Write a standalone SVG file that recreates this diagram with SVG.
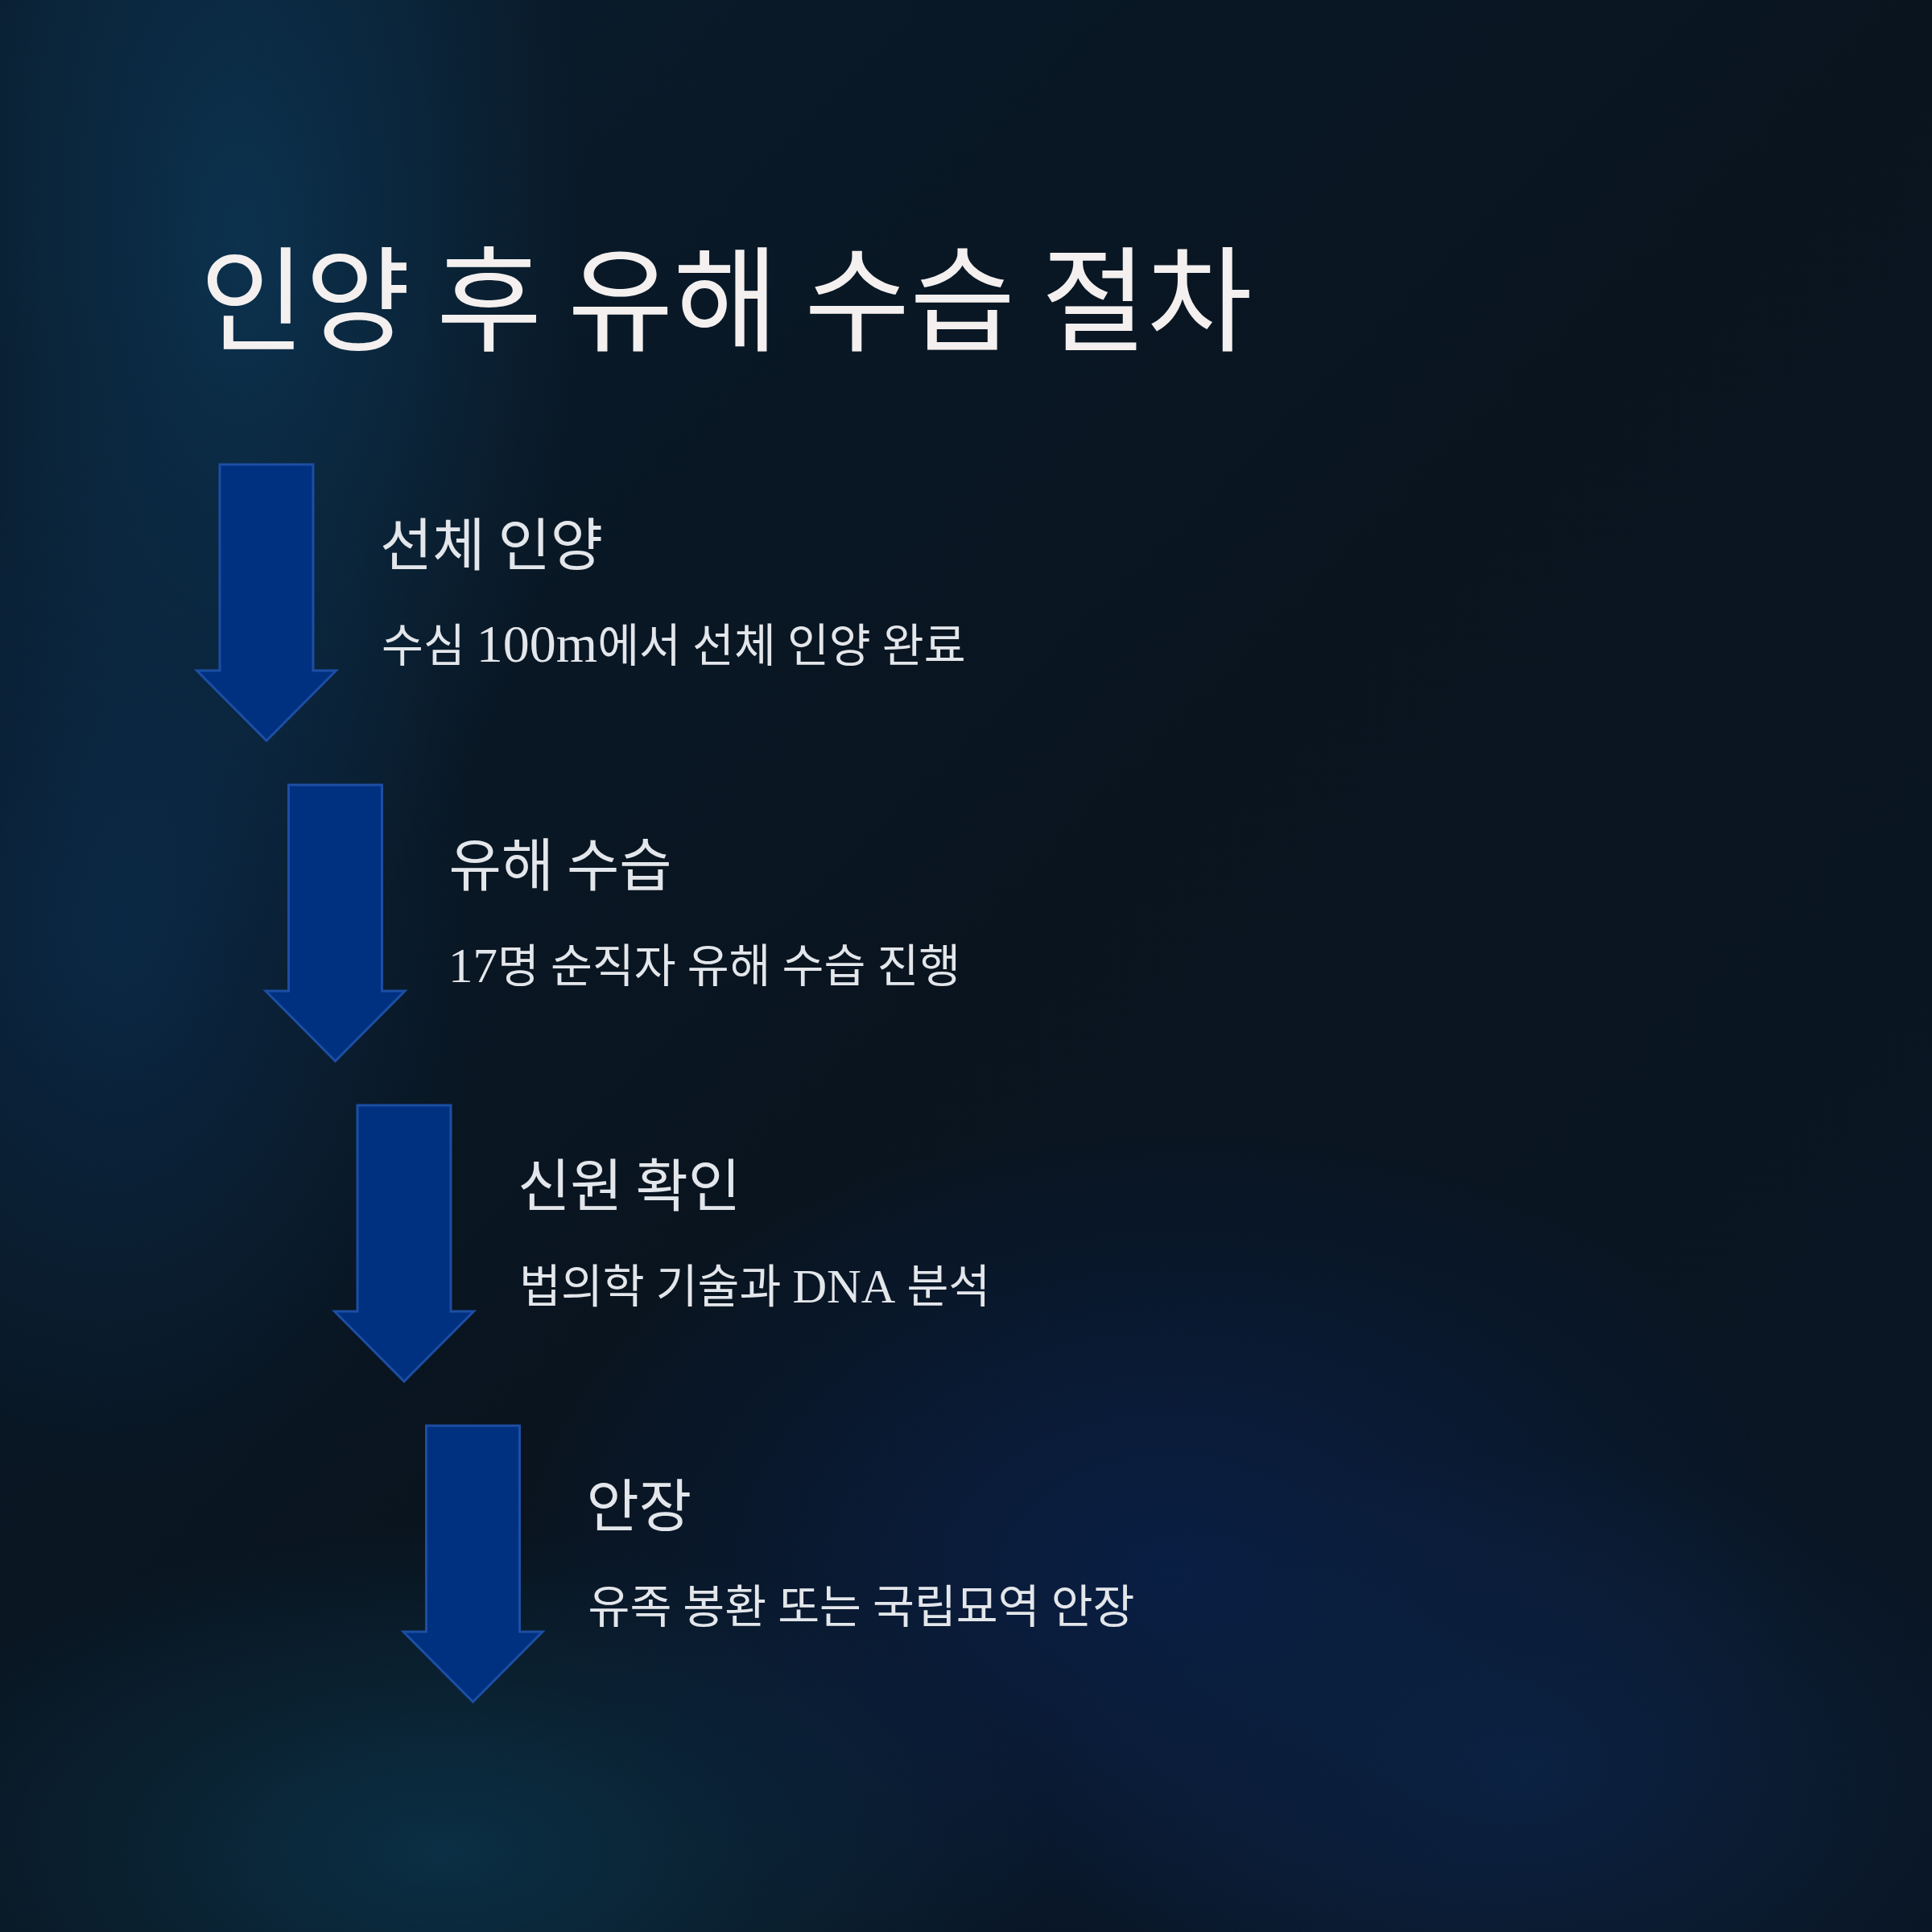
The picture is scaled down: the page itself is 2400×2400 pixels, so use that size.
<svg xmlns="http://www.w3.org/2000/svg" width="2400" height="2400" viewBox="0 0 2400 2400">
  <defs>
    <linearGradient id="base" x1="0" y1="0" x2="1" y2="1">
      <stop offset="0" stop-color="#0a1d2e"/>
      <stop offset="0.5" stop-color="#09141f"/>
      <stop offset="1" stop-color="#0a1624"/>
    </linearGradient>
    <radialGradient id="glowTL" cx="0.5" cy="0.5" r="0.5">
      <stop offset="0" stop-color="#0c3452" stop-opacity="0.9"/>
      <stop offset="1" stop-color="#0c3452" stop-opacity="0"/>
    </radialGradient>
    <radialGradient id="glowL" cx="0.5" cy="0.5" r="0.5">
      <stop offset="0" stop-color="#0b2c4c" stop-opacity="0.8"/>
      <stop offset="1" stop-color="#0b2c4c" stop-opacity="0"/>
    </radialGradient>
    <radialGradient id="glowBL" cx="0.5" cy="0.5" r="0.5">
      <stop offset="0" stop-color="#0b3248" stop-opacity="0.9"/>
      <stop offset="1" stop-color="#0b3248" stop-opacity="0"/>
    </radialGradient>
    <radialGradient id="glowC" cx="0.5" cy="0.5" r="0.5">
      <stop offset="0" stop-color="#0a2250" stop-opacity="0.75"/>
      <stop offset="1" stop-color="#0a2250" stop-opacity="0"/>
    </radialGradient>
    <radialGradient id="glowBR" cx="0.5" cy="0.5" r="0.5">
      <stop offset="0" stop-color="#0c2448" stop-opacity="0.8"/>
      <stop offset="1" stop-color="#0c2448" stop-opacity="0"/>
    </radialGradient>
    <style>
      .title { font-family: "Noto Sans CJK KR", "Noto Sans", sans-serif; font-size: 142.5px; fill: #f4f0ef; }
      .head { font-family: "Noto Sans CJK KR", "Noto Sans", sans-serif; font-size: 71px; fill: #e3e6ea; }
      .desc { font-family: "Liberation Serif", "Noto Sans CJK KR", serif; font-size: 56.4px; fill: #e3e6ea; }
      .lat { font-size: 66px; }
      .lat17 { font-size: 61px; }
      .lat2 { font-size: 59px; }
      .arrow { fill: #003080; stroke: #1c4ea3; stroke-width: 3; stroke-linejoin: miter; }
    </style>
  </defs>

  <g id="background">
    <rect x="0" y="0" width="2400" height="2400" fill="url(#base)"/>
    <ellipse cx="300" cy="300" rx="420" ry="900" fill="url(#glowTL)"/>
    <ellipse cx="150" cy="1150" rx="450" ry="700" fill="url(#glowL)"/>
    <ellipse cx="550" cy="2300" rx="750" ry="400" fill="url(#glowBL)"/>
    <ellipse cx="1450" cy="1950" rx="800" ry="550" fill="url(#glowC)"/>
    <ellipse cx="1900" cy="2200" rx="600" ry="400" fill="url(#glowBR)"/>
  </g>

  <g id="title">
    <text class="title" x="248" y="425">인양 후 유해 수습 절차</text>
  </g>

  <g id="connectors">
    <polygon id="arrow1" class="arrow" points="273,577 389,577 389,833 417.5,833 331,920 244.5,833 273,833"/>
    <polygon id="arrow2" class="arrow" points="358.5,975 474.5,975 474.5,1231 503,1231 416.5,1318 330,1231 358.5,1231"/>
    <polygon id="arrow3" class="arrow" points="444,1373 560,1373 560,1629 588.5,1629 502,1716 415.5,1629 444,1629"/>
    <polygon id="arrow4" class="arrow" points="529.5,1771 645.5,1771 645.5,2027 674,2027 587.5,2114 501,2027 529.5,2027"/>
  </g>

  <g id="step1">
    <text class="head" x="472" y="702">선체 인양</text>
    <text class="desc" x="474" y="822">수심 <tspan class="lat">100m</tspan>에서 선체 인양 완료</text>
  </g>
  <g id="step2">
    <text class="head" x="557.5" y="1100">유해 수습</text>
    <text class="desc" x="557" y="1220"><tspan class="lat17">17</tspan>명 순직자 유해 수습 진행</text>
  </g>
  <g id="step3">
    <text class="head" x="643" y="1498">신원 확인</text>
    <text class="desc" x="645" y="1618">법의학 기술과 <tspan class="lat2">DNA</tspan> 분석</text>
  </g>
  <g id="step4">
    <text class="head" x="728.5" y="1896">안장</text>
    <text class="desc" x="730.5" y="2016">유족 봉환 또는 국립묘역 안장</text>
  </g>
</svg>
